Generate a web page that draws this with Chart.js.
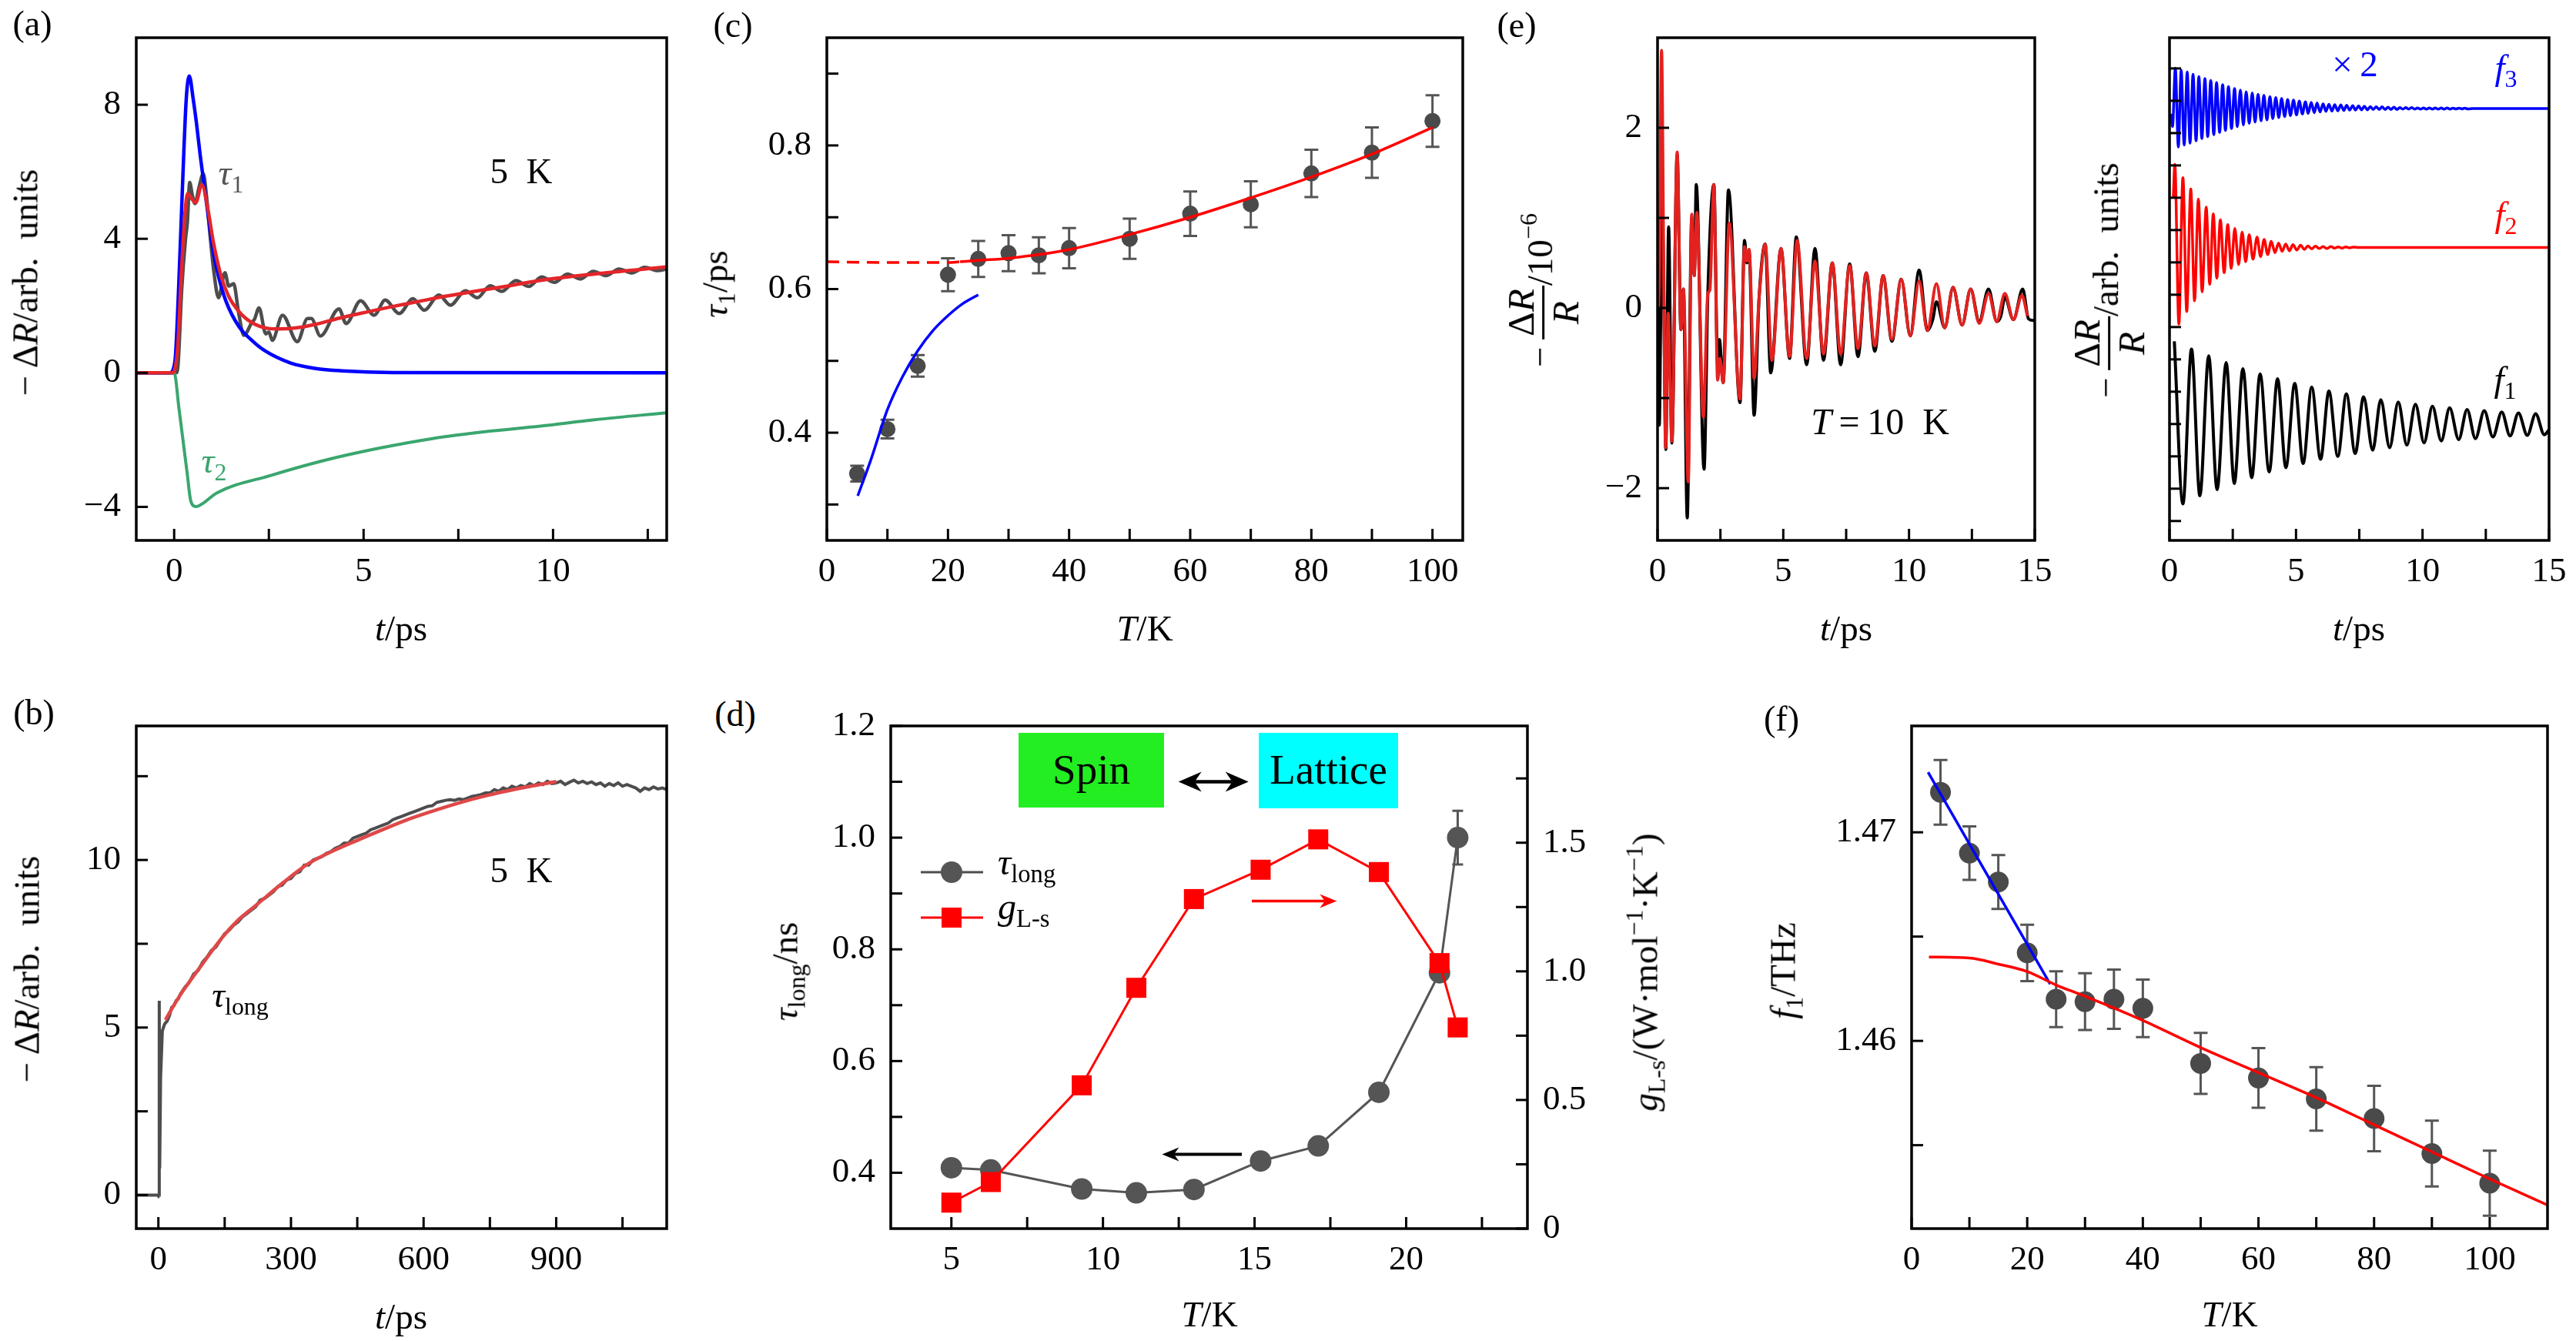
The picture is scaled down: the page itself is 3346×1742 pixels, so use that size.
<!DOCTYPE html>
<html>
<head>
<meta charset="utf-8">
<script src="https://cdn.jsdelivr.net/npm/chart.js@4.4.1/dist/chart.umd.min.js"></script>
<style>
  html, body { margin: 0; padding: 0; background: #fff; }
  body { position: relative; width: 3346px; height: 1742px; overflow: hidden; font-family: "Liberation Serif", "DejaVu Serif", serif; color: #000; }
  canvas { position: absolute; }
  .t { position: absolute; white-space: nowrap; font-size: 47px; line-height: 1; transform: translate(-50%, -50%); z-index: 3; }
  .rot { transform: translate(-50%, -50%) rotate(-90deg); }
  .lft { transform: translate(0, -50%); }
  i { font-style: italic; }
  sub { font-size: 0.68em; vertical-align: -0.32em; line-height: 0; }
  sup { font-size: 0.68em; vertical-align: 0.6em; line-height: 0; }
  .frac { display: inline-flex; flex-direction: column; align-items: center; vertical-align: middle; font-size: 1.05em; }
  .frac > span:first-child { border-bottom: 3px solid #000; padding: 0 4px 3px; }
  .frac > span:last-child { padding-top: 3px; }
  .box { position: absolute; z-index: 1; }
</style>
</head>
<body>
<script>
// ---------- (a) fast transient at 5 K ----------
const aData = [[-1,0],[0.05,0],[0.1,0.2],[0.2,2.5],[0.3,4.0],[0.35,4.5],[0.41,5.68],[0.48,5.3],[0.55,5.05],[0.65,5.5],[0.77,5.94],[0.86,5.2],[0.95,4.07],[1.05,3.0],[1.17,2.24],[1.34,2.99],[1.44,2.59],[1.57,2.66],[1.7,1.8],[1.84,1.12],[2.05,1.5],[2.12,1.6],[2.24,1.94],[2.42,1.16],[2.5,1.22],[2.59,0.97],[2.86,1.72],[3.25,0.93],[3.52,1.62],[3.62,1.62],[3.86,1.1],[4.35,1.91],[4.54,1.47],[4.92,2.15],[5.28,1.72],[5.57,2.17],[5.94,1.77],[6.3,2.21],[6.6,1.87],[6.99,2.32],[7.29,2.02],[7.69,2.45],[8.0,2.24],[8.34,2.6],[8.65,2.43],[9.02,2.75],[9.36,2.58],[9.7,2.86],[10.04,2.7],[10.38,2.95],[10.72,2.8],[11.06,3.03],[11.4,2.9],[11.74,3.1],[12.08,2.98],[12.42,3.15],[12.76,3.05],[13.0,3.1]];
const aFit = [[-1,0],[-0.05,0],[0.09,0.71],[0.19,2.95],[0.29,4.82],[0.355,5.35],[0.46,5.2],[0.57,5.08],[0.73,5.61],[0.9,4.82],[1.03,3.93],[1.24,2.88],[1.44,2.28],[1.71,1.83],[2.05,1.5],[2.52,1.32],[2.79,1.31],[3.2,1.34],[3.74,1.45],[4.42,1.65],[5.1,1.82],[5.77,1.98],[6.45,2.13],[7.13,2.28],[7.8,2.41],[8.75,2.58],[9.67,2.76],[11.1,2.95],[13,3.16]];
const aTau1 = [[-1,0],[-0.12,0],[0.02,0.34],[0.12,2.58],[0.22,5.57],[0.32,8.19],[0.4,8.86],[0.5,8.19],[0.59,7.44],[0.69,6.47],[0.83,5.27],[1.03,3.63],[1.17,2.88],[1.37,2.13],[1.71,1.38],[2.05,0.97],[2.38,0.67],[3.06,0.3],[3.74,0.13],[4.42,0.06],[5.78,0.01],[13,0]];
const aTau2 = [[-1,0],[0,0],[0.13,-1.09],[0.27,-2.34],[0.34,-2.96],[0.44,-3.83],[0.58,-3.99],[0.75,-3.9],[1.13,-3.58],[2.55,-3.06],[3.97,-2.61],[5.4,-2.25],[6.82,-1.96],[8.25,-1.75],[9.67,-1.59],[11.1,-1.4],[13,-1.19]];
const aXTicks = [0, 2.5, 5, 7.5, 10, 12.5];
const aXLabels = ['0', '', '5', '', '10', ''];
const aYTicks = [-4, 0, 4, 8];
const aYLabels = ['−4', '0', '4', '8'];

// ---------- (b) slow recovery at 5 K ----------
const bData = [[-50,0],[-2,0],[0,-0.03],[1.2,0],[2,5.8],[3,0.8],[5,3.5],[9,4.9],[14,5.1],[20,5.2],[25,5.35],[30,5.6],[35,5.65],[40,5.8],[45,5.85],[50,6.0],[60,6.2],[70,6.35],[80,6.6],[90,6.7],[100,6.95],[110,7.1],[120,7.3],[130,7.4],[140,7.6],[150,7.8],[160,7.9],[170,8.05],[180,8.15],[190,8.3],[200,8.4],[210,8.5],[220,8.6],[230,8.8],[240,8.85],[250,8.95],[260,9.05],[270,9.2],[280,9.25],[290,9.4],[300,9.45],[310,9.6],[320,9.65],[330,9.85],[340,9.85],[350,10.0],[360,10.05],[370,10.1],[380,10.2],[390,10.25],[400,10.35],[410,10.4],[420,10.5],[430,10.5],[440,10.65],[450,10.7],[460,10.75],[470,10.8],[480,10.9],[490,10.95],[500,11.0],[510,11.05],[520,11.1],[530,11.2],[540,11.25],[550,11.3],[560,11.35],[570,11.4],[580,11.45],[590,11.5],[600,11.55],[610,11.6],[620,11.62],[630,11.72],[640,11.75],[650,11.78],[660,11.8],[670,11.78],[680,11.82],[690,11.8],[700,11.85],[710,11.9],[720,11.92],[730,11.95],[740,12.0],[750,12.0],[760,12.1],[770,12.05],[780,12.15],[790,12.1],[800,12.2],[810,12.15],[820,12.22],[830,12.18],[840,12.28],[850,12.22],[860,12.3],[870,12.25],[880,12.35],[890,12.28],[900,12.3],[910,12.35],[920,12.25],[930,12.32],[940,12.38],[950,12.3],[960,12.35],[970,12.28],[980,12.33],[990,12.25],[1000,12.3],[1010,12.2],[1020,12.28],[1030,12.22],[1040,12.3],[1050,12.2],[1060,12.25],[1070,12.2],[1080,12.15],[1090,12.05],[1100,12.15],[1110,12.1],[1120,12.18],[1130,12.12],[1140,12.15],[1150,12.1]];
const bFit = [[16,5.23],[30,5.55],[50,5.98],[75,6.45],[100,6.9],[144,7.68],[180,8.2],[222,8.66],[280,9.3],[338,9.88],[400,10.3],[454,10.61],[510,10.92],[571,11.24],[630,11.5],[687,11.73],[745,11.93],[803,12.1],[850,12.22],[900,12.34]];
const bXTicks = [0, 150, 300, 450, 600, 750, 900, 1050];
const bXLabels = ['0', '', '300', '', '600', '', '900', ''];
const bYTicks = [0, 2.5, 5, 7.5, 10, 12.5];
const bYLabels = ['0', '', '5', '', '10', ''];

// ---------- (c) tau1 vs temperature ----------
const cTemps = [5, 10, 15, 20, 25, 30, 35, 40, 50, 60, 70, 80, 90, 100];
const cTau1 = [0.343, 0.405, 0.493, 0.62, 0.642, 0.65, 0.647, 0.657, 0.67, 0.705, 0.718, 0.761, 0.79, 0.834];
const cTau1Err = [0.011, 0.013, 0.015, 0.023, 0.025, 0.025, 0.025, 0.028, 0.028, 0.031, 0.032, 0.033, 0.035, 0.036];
const cFitDashed = [[0,0.638],[10,0.637],[20,0.637],[22,0.638]];
const cFitSolid = [[22,0.638],[25,0.64],[30,0.643],[40,0.655],[50,0.676],[60,0.7],[70,0.727],[80,0.756],[90,0.788],[100,0.825]];
const cFitLow = [[5.1,0.312],[7.3,0.363],[10,0.432],[12.5,0.478],[15,0.514],[17.5,0.542],[20,0.563],[22.5,0.58],[25,0.592]];
const cXTicks = [0, 10, 20, 30, 40, 50, 60, 70, 80, 90, 100];
const cXLabels = ['0', '', '20', '', '40', '', '60', '', '80', '', '100'];
const cYTicks = [0.3, 0.4, 0.5, 0.6, 0.7, 0.8, 0.9];
const cYLabels = ['', '0.4', '', '0.6', '', '0.8', ''];

// ---------- (d) tau_long and g_L-s ----------
const dTemps = [5, 6.3, 9.3, 11.1, 13, 15.2, 17.1, 19.1, 21.1, 21.7];
const dTauLong = [0.409, 0.405, 0.371, 0.364, 0.37, 0.421, 0.448, 0.544, 0.758, 1.0];
const dTauLongErr = [0, 0, 0, 0, 0, 0, 0, 0, 0, 0.048];
const dGls = [0.101, 0.181, 0.557, 0.936, 1.281, 1.395, 1.513, 1.386, 1.032, 0.782];
const dXTicks = [5, 7.5, 10, 12.5, 15, 17.5, 20, 22.5];
const dXLabels = ['5', '', '10', '', '15', '', '20', ''];
const dYTicks = [0.4, 0.5, 0.6, 0.7, 0.8, 0.9, 1.0, 1.1, 1.2];
const dYLabels = ['0.4', '', '0.6', '', '0.8', '', '1.0', '', '1.2'];
const dY2Ticks = [0, 0.25, 0.5, 0.75, 1.0, 1.25, 1.5, 1.75];
const dY2Labels = ['0', '', '0.5', '', '1.0', '', '1.5', ''];

// ---------- (e) oscillations at 10 K ----------
const eData = [[0,0],[0.03,-0.4],[0.07,-1.3],[0.12,-0.2],[0.17,1.4],[0.24,0.3],[0.33,-1.57],[0.44,0.9],[0.57,-1.5],[0.78,1.7],[0.93,-0.24],[1.03,0.21],[1.18,-2.33],[1.36,1.0],[1.46,0.36],[1.54,1.37],[1.85,-1.79],[2.0,0.16],[2.24,1.37],[2.39,-0.6],[2.46,-0.35],[2.61,-0.83],[2.82,1.31],[3.28,-1.05],[3.46,0.75],[3.55,0.5],[3.64,0.62],[3.84,-1.19],[4.04,0.12],[4.28,0.71],[4.5,-0.72],[4.91,0.66],[5.25,-0.56],[5.52,0.79],[5.93,-0.63],[6.26,0.66],[6.6,-0.58],[6.95,0.5],[7.28,-0.63],[7.64,0.49],[7.97,-0.54],[8.3,0.39],[8.64,-0.48],[8.97,0.36],[9.32,-0.37],[9.69,0.32],[10.05,-0.31],[10.4,0.42],[10.73,-0.25],[10.95,-0.12],[11.09,0.07],[11.42,-0.22],[11.75,0.23],[12.11,-0.19],[12.45,0.21],[12.79,-0.15],[13.16,0.21],[13.49,-0.15],[13.65,-0.09],[13.81,0.12],[14.15,-0.13],[14.52,0.21],[14.75,-0.12],[14.97,-0.14]];
const eFit = [[0.04,0.0],[0.08,0.5],[0.16,2.86],[0.24,0.6],[0.32,-1.55],[0.42,-0.06],[0.57,-1.48],[0.78,1.73],[0.93,-0.24],[1.03,0.21],[1.22,-1.93],[1.36,1.04],[1.46,0.36],[1.56,1.06],[1.82,-1.21],[2.0,0.16],[2.08,0.2],[2.24,1.37],[2.39,-0.8],[2.48,-0.56],[2.61,-0.83],[2.85,0.94],[3.28,-1.01],[3.46,0.68],[3.55,0.52],[3.64,0.65],[3.84,-0.78],[4.04,0.12],[4.28,0.71],[4.55,-0.58],[4.91,0.66],[5.25,-0.54],[5.55,0.75],[5.93,-0.56],[6.26,0.52],[6.6,-0.51],[6.95,0.5],[7.28,-0.51],[7.64,0.47],[7.97,-0.45],[8.3,0.39],[8.64,-0.42],[8.97,0.36],[9.32,-0.35],[9.69,0.32],[10.05,-0.31],[10.4,0.3],[10.73,-0.25],[11.09,0.27],[11.42,-0.22],[11.75,0.23],[12.11,-0.19],[12.45,0.21],[12.79,-0.17],[13.16,0.16],[13.49,-0.15],[13.81,0.16],[14.15,-0.13],[14.49,0.14],[14.71,-0.09]];
const eF1 = [[0.19,5.56],[0.53,0.53],[0.87,5.32],[1.2,0.78],[1.55,5.11],[1.88,0.97],[2.24,4.9],[2.56,1.16],[2.9,4.71],[3.25,1.34],[3.58,4.55],[3.94,1.52],[4.27,4.4],[4.6,1.65],[4.95,4.26],[5.28,1.78],[5.62,4.14],[5.97,1.91],[6.3,4.02],[6.65,2.0],[6.99,3.93],[7.34,2.09],[7.67,3.84],[8.03,2.19],[8.35,3.75],[8.7,2.27],[9.04,3.68],[9.38,2.35],[9.72,3.61],[10.06,2.42],[10.39,3.55],[10.74,2.48],[11.07,3.5],[11.43,2.52],[11.76,3.45],[12.09,2.55],[12.44,3.41],[12.78,2.6],[13.13,3.37],[13.46,2.63],[13.79,3.34],[14.14,2.65],[14.47,3.32],[14.81,2.67],[15,2.82]];
const eF2 = [[0.15,10.0],[0.21,11.03],[0.37,6.09],[0.53,10.62],[0.68,6.48],[0.84,10.27],[0.99,6.81],[1.14,9.96],[1.29,7.09],[1.45,9.71],[1.59,7.32],[1.73,9.5],[1.87,7.51],[2.01,9.32],[2.16,7.68],[2.3,9.17],[2.44,7.81],[2.58,9.05],[2.73,7.93],[2.87,8.94],[3.01,8.02],[3.15,8.86],[3.3,8.1],[3.46,8.78],[3.6,8.18],[3.74,8.71],[3.88,8.24],[4.02,8.65],[4.17,8.3],[4.31,8.6],[4.45,8.34],[4.59,8.57],[4.74,8.36],[4.88,8.55],[5.03,8.38],[5.18,8.53],[5.33,8.4],[5.47,8.51],[5.62,8.42],[5.77,8.5],[5.92,8.43],[6.07,8.49],[6.22,8.43],[6.37,8.49],[6.52,8.44],[6.67,8.48],[6.82,8.44],[6.97,8.48],[7.12,8.45],[7.27,8.47],[7.5,8.46],[15,8.46]];
const eF3 = [[0.05,12.6],[0.12,12.2],[0.23,14.01],[0.35,11.57],[0.46,13.95],[0.58,11.63],[0.7,13.89],[0.81,11.69],[0.93,13.82],[1.05,11.76],[1.16,13.75],[1.28,11.83],[1.4,13.69],[1.51,11.89],[1.63,13.63],[1.75,11.95],[1.86,13.56],[1.98,12.02],[2.1,13.5],[2.21,12.08],[2.33,13.44],[2.45,12.14],[2.57,13.38],[2.68,12.2],[2.8,13.33],[2.92,12.25],[3.03,13.28],[3.15,12.3],[3.27,13.24],[3.38,12.34],[3.5,13.2],[3.62,12.38],[3.73,13.17],[3.85,12.41],[3.97,13.13],[4.08,12.45],[4.2,13.1],[4.32,12.48],[4.43,13.07],[4.55,12.51],[4.67,13.04],[4.78,12.54],[4.9,13.02],[5.02,12.56],[5.13,12.99],[5.25,12.59],[5.37,12.97],[5.48,12.61],[5.6,12.95],[5.72,12.63],[5.83,12.93],[5.95,12.65],[6.07,12.91],[6.18,12.67],[6.3,12.89],[6.42,12.68],[6.53,12.88],[6.65,12.69],[6.77,12.87],[6.89,12.7],[7.0,12.86],[7.12,12.71],[7.24,12.85],[7.35,12.71],[7.47,12.84],[7.59,12.72],[7.7,12.83],[7.82,12.72],[7.94,12.82],[8.05,12.73],[8.17,12.81],[8.29,12.73],[8.4,12.81],[8.52,12.73],[8.64,12.8],[8.75,12.73],[8.87,12.8],[8.99,12.73],[9.1,12.79],[9.22,12.74],[9.34,12.79],[9.45,12.74],[9.57,12.79],[9.69,12.74],[9.8,12.78],[9.92,12.74],[10.04,12.78],[10.15,12.74],[10.27,12.78],[10.39,12.74],[10.5,12.78],[10.62,12.74],[10.74,12.78],[10.85,12.74],[10.97,12.78],[11.09,12.74],[11.2,12.77],[11.32,12.75],[11.44,12.77],[11.55,12.75],[11.67,12.77],[11.79,12.75],[12.0,12.76],[15,12.76]];
const eXTicks = [0, 2.5, 5, 7.5, 10, 12.5, 15];
const eXLabels = ['0', '', '5', '', '10', '', '15'];
const eYTicks = [-2, -1, 0, 1, 2];
const eYLabels = ['−2', '', '0', '', '2'];
const eRYTicks = [0, 1, 2, 3, 4, 5, 6, 7, 8, 9, 10, 11, 12, 13, 14];

// ---------- (f) f1 vs temperature ----------
const fTemps = [5, 10, 15, 20, 25, 30, 35, 40, 50, 60, 70, 80, 90, 100];
const fFreq = [1.47192, 1.469, 1.46762, 1.46422, 1.462, 1.46188, 1.462, 1.46156, 1.45892, 1.45822, 1.45722, 1.45628, 1.4546, 1.45318];
const fFreqErr = [0.00155, 0.00128, 0.00129, 0.00135, 0.00134, 0.00136, 0.00142, 0.00138, 0.00146, 0.00143, 0.00152, 0.00157, 0.00158, 0.00156];
const fFitLow = [[2.85,1.47288],[23.97,1.46272]];
const fFitHigh = [[3,1.46402],[10,1.46397],[15,1.46368],[20,1.46332],[25,1.46268],[30,1.46214],[40,1.46098],[50,1.45968],[60,1.45848],[70,1.45728],[80,1.45598],[90,1.45468],[100,1.45338],[110,1.45213]];
const fXTicks = [0, 10, 20, 30, 40, 50, 60, 70, 80, 90, 100];
const fXLabels = ['0', '', '20', '', '40', '', '60', '', '80', '', '100'];
const fYTicks = [1.455, 1.46, 1.465, 1.47];
const fYLabels = ['', '1.46', '', '1.47'];

// ---------- drawing ----------
const SERIF = '"Liberation Serif", "DejaVu Serif", serif';
Chart.defaults.font.family = SERIF;
Chart.defaults.font.size = 45;
Chart.defaults.color = '#000';

const TICK_LEN = 15;
const GRAY = '#4d4d4d';

const pts = pairs => pairs.map(([x, y]) => ({ x, y }));
const zip = (xs, ys) => xs.map((x, i) => ({ x, y: ys[i] }));

// frame box and inward ticks
const frameTicks = {
  id: 'frameTicks',
  afterDatasetsDraw(chart) {
    const { ctx, chartArea: a } = chart;
    ctx.save();
    ctx.strokeStyle = '#000';
    ctx.lineWidth = 3;
    for (const s of Object.values(chart.scales)) {
      for (const t of s.ticks) {
        const p = s.getPixelForValue(t.value);
        ctx.beginPath();
        if (s.isHorizontal()) { ctx.moveTo(p, a.bottom); ctx.lineTo(p, a.bottom - TICK_LEN); }
        else if (s.position === 'left') { ctx.moveTo(a.left, p); ctx.lineTo(a.left + TICK_LEN, p); }
        else { ctx.moveTo(a.right, p); ctx.lineTo(a.right - TICK_LEN, p); }
        ctx.stroke();
      }
    }
    ctx.lineWidth = 3.5;
    ctx.strokeRect(a.left, a.top, a.right - a.left, a.bottom - a.top);
    ctx.restore();
  }
};

const errorBars = {
  id: 'errorBars',
  beforeDatasetsDraw(chart) {
    const ctx = chart.ctx;
    chart.data.datasets.forEach((ds, i) => {
      if (!ds.errors) return;
      const meta = chart.getDatasetMeta(i);
      const ys = chart.scales[meta.yAxisID];
      ctx.save();
      ctx.strokeStyle = ds.errorColor || '#555';
      ctx.lineWidth = 3;
      ds.data.forEach((p, j) => {
        const e = ds.errors[j];
        if (!e) return;
        const x = meta.data[j].x;
        const y1 = ys.getPixelForValue(p.y - e), y2 = ys.getPixelForValue(p.y + e);
        const c = ds.capHalf || 9;
        ctx.beginPath();
        ctx.moveTo(x, y1); ctx.lineTo(x, y2);
        ctx.moveTo(x - c, y1); ctx.lineTo(x + c, y1);
        ctx.moveTo(x - c, y2); ctx.lineTo(x + c, y2);
        ctx.stroke();
      });
      ctx.restore();
    });
  }
};

function axis(min, max, values, labels, pad) {
  return {
    type: 'linear', min, max,
    grid: { display: false, drawTicks: false },
    border: { display: false },
    afterBuildTicks: s => { s.ticks = values.map(v => ({ value: v })); },
    ticks: {
      autoSkip: false, maxRotation: 0, minRotation: 0, padding: pad,
      font: { family: SERIF, size: 45 },
      callback: v => { const k = values.indexOf(v); return k < 0 ? '' : (labels ? labels[k] : ''); }
    }
  };
}

function line(data, color, width, extra) {
  return Object.assign({ data, showLine: true, borderColor: color, borderWidth: width, pointRadius: 0, cubicInterpolationMode: 'monotone', fill: false }, extra || {});
}

function panel(frame, pad, datasets, scales, extraPlugins) {
  const [l, t, r, b] = frame;
  const w = r - l + pad.l + pad.r, h = b - t + pad.t + pad.b;
  const cv = document.createElement('canvas');
  cv.width = w; cv.height = h;
  cv.style.left = (l - pad.l) + 'px';
  cv.style.top = (t - pad.t) + 'px';
  cv.style.width = w + 'px';
  cv.style.height = h + 'px';
  document.body.appendChild(cv);
  scales.x.afterFit = s => { s.height = pad.b; };
  scales.y.afterFit = s => { s.width = pad.l; };
  if (scales.y2) scales.y2.afterFit = s => { s.width = pad.r; };
  return new Chart(cv, {
    type: 'scatter',
    data: { datasets },
    options: {
      responsive: false, animation: false, devicePixelRatio: 1, events: [],
      layout: { padding: { left: 0, top: pad.t, right: scales.y2 ? 0 : pad.r, bottom: 0 } },
      scales,
      plugins: { legend: { display: false }, tooltip: { enabled: false } }
    },
    plugins: [errorBars, frameTicks].concat(extraPlugins || [])
  });
}

function text(x, y, html, cls, style) {
  const d = document.createElement('div');
  d.className = 't ' + (cls || '');
  d.style.left = x + 'px';
  d.style.top = y + 'px';
  if (style) d.style.cssText += style;
  d.innerHTML = html;
  document.body.appendChild(d);
}

const PAD = { l: 160, r: 40, t: 30, b: 90 };

// (a)
panel([177, 32, 866, 702], PAD, [
  line(pts(aFit), '#e3262b', 4.5),
  line(pts(aTau1), '#0000ff', 4.5),
  line(pts(aTau2), '#3aa66e', 4),
  line(pts(aData), GRAY, 4.5)
], { x: axis(-1, 13, aXTicks, aXLabels, 14), y: axis(-5, 10, aYTicks, aYLabels, 20) });

// (b)
panel([177, 926, 866, 1596], PAD, [
  line(pts(bFit), '#e04848', 4.5),
  line(pts(bData), GRAY, 4, { cubicInterpolationMode: 'default', tension: 0 })
], { x: axis(-50, 1150, bXTicks, bXLabels, 14), y: axis(-1, 14, bYTicks, bYLabels, 20) });

// (c)
panel([1074, 32, 1900, 702], PAD, [
  line(pts(cFitSolid), '#ff0000', 3.5),
  line(pts(cFitDashed), '#ff0000', 3.5, { borderDash: [16, 10] }),
  line(pts(cFitLow), '#0000ff', 3.5),
  { data: zip(cTemps, cTau1), errors: cTau1Err, capHalf: 9, pointRadius: 10.5, pointStyle: 'circle', backgroundColor: '#4a4a4a', borderWidth: 0, showLine: false }
], { x: axis(0, 105, cXTicks, cXLabels, 14), y: axis(0.25, 0.95, cYTicks, cYLabels, 20) });

// (d)
const dAnnot = {
  id: 'dAnnot',
  afterDatasetsDraw(chart) {
    const { ctx, chartArea: a, scales: { x, y, y2 } } = chart;
    function arrow(x1, y1, x2, y2p, color, lw, head, half, both) {
      const drawHead = (tx, ty, dir) => {
        ctx.beginPath();
        ctx.moveTo(tx, ty);
        ctx.lineTo(tx - dir * head, ty - half);
        ctx.lineTo(tx - dir * head * 0.7, ty);
        ctx.lineTo(tx - dir * head, ty + half);
        ctx.closePath();
        ctx.fill();
      };
      ctx.save();
      ctx.strokeStyle = color; ctx.fillStyle = color; ctx.lineWidth = lw;
      const dir = x2 > x1 ? 1 : -1;
      ctx.beginPath();
      ctx.moveTo(both ? x1 + dir * head * 0.7 : x1, y1);
      ctx.lineTo(x2 - dir * head * 0.7, y2p);
      ctx.stroke();
      drawHead(x2, y2p, dir);
      if (both) drawHead(x1, y1, -dir);
      ctx.restore();
    }
    const yb = y.getPixelForValue(0.433);
    arrow(x.getPixelForValue(14.58), yb, x.getPixelForValue(11.95), yb, '#000', 4, 22, 9, false);
    const yr = y2.getPixelForValue(1.273);
    arrow(x.getPixelForValue(14.91), yr, x.getPixelForValue(17.71), yr, '#ff0000', 3.5, 22, 9, false);
    const yd = y.getPixelForValue(1.1);
    arrow(x.getPixelForValue(12.49), yd, x.getPixelForValue(14.8), yd, '#000', 4.5, 30, 13, true);
    // legend symbols
    ctx.save();
    const lx0 = a.left + 39, lx1 = a.left + 120, cx = a.left + 79;
    const ly1 = a.top + 190, ly2 = a.top + 249;
    ctx.lineWidth = 3;
    ctx.strokeStyle = GRAY;
    ctx.beginPath(); ctx.moveTo(lx0, ly1); ctx.lineTo(lx1, ly1); ctx.stroke();
    ctx.fillStyle = '#555';
    ctx.beginPath(); ctx.arc(cx, ly1, 14, 0, Math.PI * 2); ctx.fill();
    ctx.strokeStyle = '#ff0000';
    ctx.beginPath(); ctx.moveTo(lx0, ly2); ctx.lineTo(lx1, ly2); ctx.stroke();
    ctx.fillStyle = '#ff0000';
    ctx.fillRect(cx - 13, ly2 - 13, 26, 26);
    ctx.restore();
  }
};
panel([1157, 926, 1984, 1596], { l: 160, r: 160, t: 30, b: 90 }, [
  { data: zip(dTemps, dGls), yAxisID: 'y2', showLine: true, borderColor: '#ff0000', borderWidth: 3, pointStyle: 'rect', pointRadius: 18.4, backgroundColor: '#ff0000', pointBorderWidth: 0 },
  { data: zip(dTemps, dTauLong), yAxisID: 'y', errors: dTauLongErr, capHalf: 7, errorColor: '#555', showLine: true, borderColor: '#555', borderWidth: 3, pointStyle: 'circle', pointRadius: 14, backgroundColor: '#555', pointBorderWidth: 0 }
], {
  x: axis(3, 24, dXTicks, dXLabels, 14),
  y: axis(0.3, 1.2, dYTicks, dYLabels, 20),
  y2: Object.assign(axis(0, 1.954, dY2Ticks, dY2Labels, 20), { position: 'right' })
}, [dAnnot]);

// (e) left
panel([2153, 32, 2643, 702], PAD, [
  line(pts(eFit), '#e3221f', 4),
  line(pts(eData), '#000', 4)
], { x: axis(0, 15, eXTicks, eXLabels, 14), y: axis(-2.58, 3.0, eYTicks, eYLabels, 20) });

// (e) right
panel([2818, 32, 3311, 702], { l: 40, r: 40, t: 30, b: 90 }, [
  line(pts(eF3), '#0000ff', 3.5),
  line(pts(eF2), '#ff0000', 3.5),
  line(pts(eF1), '#000', 4)
], { x: axis(0, 15, eXTicks, eXLabels, 14), y: axis(-0.6, 14.95, eRYTicks, null, 20) });

// (f)
panel([2483, 926, 3309, 1596], PAD, [
  line(pts(fFitHigh), '#ff0000', 3.5),
  line(pts(fFitLow), '#0000ff', 3.5),
  { data: zip(fTemps, fFreq), errors: fFreqErr, capHalf: 9, pointRadius: 13.5, pointStyle: 'circle', backgroundColor: '#4a4a4a', borderWidth: 0, showLine: false }
], { x: axis(0, 110, fXTicks, fXLabels, 14), y: axis(1.451, 1.4751, fYTicks, fYLabels, 20) });

// boxes in (d)
for (const [x0, y0, w, h, bg, label] of [[1323, 952, 189, 97, '#22ee22', 'Spin'], [1635, 952, 181, 98, '#00ffff', 'Lattice']]) {
  const b = document.createElement('div');
  b.className = 'box';
  b.style.cssText = `left:${x0}px;top:${y0}px;width:${w}px;height:${h}px;background:${bg};`;
  document.body.appendChild(b);
  text(x0 + w / 2, y0 + h / 2 - 2, label, '', 'font-size:55px;');
}

// panel labels
text(42, 31, '(a)', '', 'font-size:46px;');
text(952, 33, '(c)', '', 'font-size:46px;');
text(1970, 33, '(e)', '', 'font-size:46px;');
text(44, 926, '(b)', '', 'font-size:46px;');
text(955, 928, '(d)', '', 'font-size:46px;');
text(2314, 934, '(f)', '', 'font-size:46px;');

// axis titles
const XT = '<i>t</i>/ps', TK = '<i>T</i>/K';
const DR = '−&thinsp;Δ<i>R</i>/arb.&nbsp;&nbsp;units';
const FRAC = '−&thinsp;<span class="frac"><span>Δ<i>R</i></span><span><i>R</i></span></span>';
text(33, 367, DR, 'rot');
text(521, 816, XT);
text(929, 369, '<i>τ</i><sub>1</sub>/ps', 'rot');
text(1487, 816, TK);
text(2005, 377, FRAC + '/10<sup>−6</sup>', 'rot');
text(2398, 816, XT);
text(2740, 364, FRAC + '/arb.&nbsp;&nbsp;units', 'rot');
text(3064, 816, XT);
text(35, 1259, DR, 'rot');
text(521, 1710, XT);
text(1020, 1262, '<i>τ</i><sub>long</sub>/ns', 'rot');
text(2137, 1263, '<i>g</i><sub>L-s</sub>/(W·mol<sup>−1</sup>·K<sup>−1</sup>)', 'rot');
text(1571, 1707, TK);
text(2316, 1261, '<i>f</i><sub>1</sub>/THz', 'rot');
text(2896, 1707, TK);

// annotations
text(677, 222, '5&nbsp;&nbsp;K', '', 'font-size:47px;');
text(300, 224, '<i>τ</i><sub>1</sub>', '', 'color:#555;');
text(278, 598, '<i>τ</i><sub>2</sub>', '', 'color:#3aa66e;');
text(677, 1130, '5&nbsp;&nbsp;K', '', 'font-size:47px;');
text(312, 1292, '<i>τ</i><sub>long</sub>');
text(2442, 548, '<i>T</i>&thinsp;=&thinsp;10&nbsp;&nbsp;K', '', 'font-size:48px;');
text(3059, 83, '×&thinsp;2', '', 'color:#0000ff;');
text(3255, 87, '<i>f</i><sub>3</sub>', '', 'color:#0000ff;');
text(3255, 278, '<i>f</i><sub>2</sub>', '', 'color:#ff0000;');
text(3254, 492, '<i>f</i><sub>1</sub>');
text(1296, 1120, '<i>τ</i><sub>long</sub>', 'lft', 'font-size:48px;');
text(1296, 1178, '<i>g</i><sub>L-s</sub>', 'lft', 'font-size:48px;');
</script>
</body>
</html>
